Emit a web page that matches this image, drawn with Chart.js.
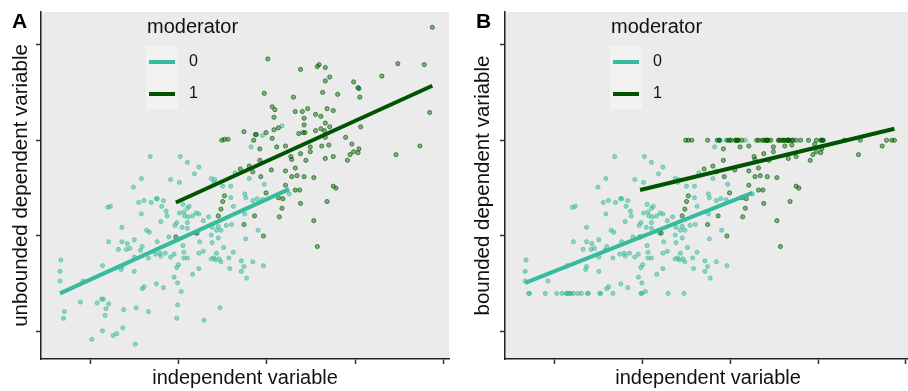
<!DOCTYPE html>
<html>
<head>
<meta charset="utf-8">
<script src="https://cdn.jsdelivr.net/npm/chart.js@4.4.1/dist/chart.umd.min.js"></script>
<style>
  body { margin: 0; background: #fff; }
  .wrap { display: flex; width: 908px; height: 391px; }
  .panel { width: 454px; height: 391px; overflow: hidden; }
  canvas { display: block; }
</style>
</head>
<body>
<div class="wrap">
  <div class="panel"><canvas id="panelA" width="454" height="391"></canvas></div>
  <div class="panel"><canvas id="panelB" width="462" height="391"></canvas></div>
</div>
<script>
const moderators = ['0', '1'];
const xTicks = [-2, -1, 0, 1, 2];
const yTicks = [-1, 0, 1, 2];

// moderator 0
const x0 = [
  -2.33, -2.34, -2.34, -2.08, -2.29, -2.30, -2.11, -1.98, -1.86, -1.87,
  -1.85, -1.92, -1.79, -1.82, -1.83, -1.86, -1.74, -1.70, -1.62, -1.63,
  -1.65, -1.64, -1.50, -1.68, -1.59, -1.55, -1.49, -1.48, -1.34, -1.41,
  -1.39, -1.25, -1.17, -1.34, -1.26, -1.21, -1.20, -1.15, -1.09, -1.43,
  -1.41, -1.50, -0.95, -0.94, -0.94, -0.90, -1.05, -1.00, -1.02, -1.05,
  -1.01, -0.97, -1.01, -1.02, -0.84, -0.77, -0.77, -0.72, -0.57, -0.49,
  -0.38, -0.63, -0.60, -0.58, -0.54, -0.52, -0.43, -0.42, -0.29, -0.26,
  -0.29, -0.23, -0.16, -0.04, -0.53, -0.71, -1.32, -1.42, -1.51, -1.09,
  -1.80, -1.77, -1.45, -1.39, -1.31, -1.25, -1.24, -1.17, -1.19, -1.14,
  -1.13, -1.42, -1.20, -1.64, -1.36, -1.33, -1.24, -1.11, -1.04, -1.02,
  -1.79, -1.64, -1.58, -1.50, -0.98, -0.90, -0.77, -0.82, -0.99, -0.63,
  -0.59, -0.60, -0.50, -0.41, -0.18, -0.36, -0.20, -0.03, -0.25, -0.24,
  -0.41, -0.38, -0.25, -0.16, -0.11, -0.05, 0.25, -0.88, -0.90, -0.95,
  -0.99, -0.93, -0.94, -0.89, -0.84, -0.80, -0.77, -0.90, -0.96, -0.90,
  -0.72, -0.66, -0.62, -0.55, -0.57, -0.46, -0.40, -0.52, -0.63, -0.76,
  -0.62, -0.55, -0.24, -0.10, -0.81, 0.17, -0.05
];
const yUnbounded0 = [
  -0.25, -0.37, -0.47, -0.47, -0.79, -0.86, -0.69, -1.08, -0.31, -0.66,
  -0.66, -0.70, -0.71, -0.76, -0.83, -0.99, -1.04, -1.02, -0.77, -0.96,
  -0.35, -0.32, -0.37, -0.14, -0.14, -0.13, -1.13, -0.75, -0.79, -0.55,
  -0.53, -0.50, -0.54, -0.23, -0.19, -0.18, -0.21, -0.18, -0.22, -0.15,
  -0.11, -0.22, -0.10, -0.17, -0.23, -0.23, -0.19, -0.30, -0.33, -0.43,
  -0.49, -0.58, -0.72, -0.86, -0.40, -0.34, -0.18, -0.16, -0.18, -0.12,
  -0.17, -0.24, -0.23, -0.25, -0.24, -0.27, -0.23, -0.34, -0.26, -0.32,
  -0.37, -0.44, -0.27, -0.31, -0.75, -0.88, 0.83, 0.60, 0.51, 0.59,
  0.30, 0.31, 0.35, 0.37, 0.35, 0.39, 0.39, 0.37, 0.31, 0.26,
  0.21, 0.23, 0.15, 0.09, 0.06, 0.04, -0.06, -0.01, 0.11, 0.14,
  -0.06, -0.06, -0.08, -0.04, 0.83, 0.77, 0.72, 0.65, 0.56, 0.60,
  0.59, 0.56, 0.52, 0.52, 0.93, 0.66, 0.60, 0.54, 0.44, 0.40,
  0.40, 0.31, 0.23, 0.37, 0.39, 0.38, 0.44, 0.31, 0.29, 0.33,
  0.24, 0.21, 0.25, 0.20, 0.21, 0.24, 0.23, 0.14, 0.09, 0.08,
  0.16, 0.20, 0.09, 0.10, 0.06, 0.11, 0.12, 0.06, 0.01, -0.06,
  -0.07, -0.02, -0.03, 0.06, 0.03, 1.15, 1.05
];
const yBounded0 = [
  -0.25, -0.37, -0.47, -0.47, -0.60, -0.60, -0.60, -0.60, -0.31, -0.60,
  -0.60, -0.60, -0.60, -0.60, -0.60, -0.60, -0.60, -0.60, -0.60, -0.60,
  -0.35, -0.32, -0.37, -0.14, -0.14, -0.13, -0.60, -0.60, -0.60, -0.55,
  -0.53, -0.50, -0.54, -0.23, -0.19, -0.18, -0.21, -0.18, -0.22, -0.15,
  -0.11, -0.22, -0.10, -0.17, -0.23, -0.23, -0.19, -0.30, -0.33, -0.43,
  -0.49, -0.58, -0.60, -0.60, -0.40, -0.34, -0.18, -0.16, -0.18, -0.12,
  -0.17, -0.24, -0.23, -0.25, -0.24, -0.27, -0.23, -0.34, -0.26, -0.32,
  -0.37, -0.44, -0.27, -0.31, -0.60, -0.60, 0.83, 0.60, 0.51, 0.59,
  0.30, 0.31, 0.35, 0.37, 0.35, 0.39, 0.39, 0.37, 0.31, 0.26,
  0.21, 0.23, 0.15, 0.09, 0.06, 0.04, -0.06, -0.01, 0.11, 0.14,
  -0.06, -0.06, -0.08, -0.04, 0.83, 0.77, 0.72, 0.65, 0.56, 0.60,
  0.59, 0.56, 0.52, 0.52, 0.93, 0.66, 0.60, 0.54, 0.44, 0.40,
  0.40, 0.31, 0.23, 0.37, 0.39, 0.38, 0.44, 0.31, 0.29, 0.33,
  0.24, 0.21, 0.25, 0.20, 0.21, 0.24, 0.23, 0.14, 0.09, 0.08,
  0.16, 0.20, 0.09, 0.10, 0.06, 0.11, 0.12, 0.06, 0.01, -0.06,
  -0.07, -0.02, -0.03, 0.06, 0.03, 1.00, 1.00
];

// moderator 1
const x1 = [
  -0.08, 0.11, 0.21, 0.27, 0.28, 0.38, 0.44, -0.08, -0.16, -0.30,
  -0.20, 0.05, 0.21, 0.32, 0.28, 0.34, 0.42, -0.07, -0.01, 0.21,
  0.32, 0.37, 0.13, 0.18, 0.38, 0.17, 0.14, -0.14, -0.26, -0.04,
  -0.48, -0.50, -0.52, -0.55, -0.79, 0.53, 0.53, 0.57, 0.68, 0.75,
  0.78, 0.01, 0.38, 0.57, 0.59, 0.66, 0.66, -0.03, 0.30, 0.63,
  0.06, 0.09, 0.32, 0.40, 0.46, 0.55, 0.61, 0.68, 0.08, 0.42,
  0.42, 0.66, 0.61, 0.55, 0.13, 0.08, -0.01, -0.12, -0.13, -0.26,
  -0.15, 0.06, 0.36, 0.41, 0.43, -0.51, -0.48, -0.44, 0.49, 0.49,
  0.62, 1.87, 1.48, 1.78, 1.30, 0.98, 1.03, 1.04, 1.05, 0.80,
  0.71, 1.84, 0.75, 0.71, 0.65, 1.06, 0.89, 0.66, 0.70, 0.96,
  1.04, 0.98, 1.03, 0.94, 0.75, 0.66, 0.91, 1.46, 1.73, -1.03
];
const yUnbounded1 = [
  0.91, 0.93, 0.94, 0.83, 0.80, 0.86, 0.79, 0.79, 0.67, 0.70,
  0.73, 0.69, 0.68, 0.71, 0.62, 0.63, 0.62, 0.62, 0.45, 0.53,
  0.48, 0.48, 0.40, 0.39, 0.34, 0.29, 0.20, 0.21, 0.12, 0.00,
  0.42, 0.36, 0.28, 0.21, 0.03, 0.61, 0.16, -0.11, 0.36, 0.52,
  0.50, 1.85, 1.74, 1.77, 1.79, 1.76, 1.62, 1.49, 1.45, 1.50,
  1.35, 1.32, 1.30, 1.30, 1.33, 1.27, 1.25, 1.33, 1.24, 1.23,
  1.16, 1.18, 1.12, 1.10, 1.13, 1.11, 1.08, 1.06, 1.06, 1.09,
  1.00, 1.02, 1.07, 1.08, 1.08, 1.00, 1.01, 1.01, 0.93, 0.88,
  0.94, 2.18, 1.80, 1.79, 1.67, 1.61, 1.55, 1.54, 1.45, 1.48,
  1.66, 1.29, 1.31, 1.14, 1.10, 1.14, 1.03, 1.03, 0.95, 0.96,
  0.91, 0.88, 0.87, 0.85, 0.83, 0.81, 0.79, 0.85, 0.94, -0.01
];
const yBounded1 = [
  0.91, 0.93, 0.94, 0.83, 0.80, 0.86, 0.79, 0.79, 0.67, 0.70,
  0.73, 0.69, 0.68, 0.71, 0.62, 0.63, 0.62, 0.62, 0.45, 0.53,
  0.48, 0.48, 0.40, 0.39, 0.34, 0.29, 0.20, 0.21, 0.12, 0.00,
  0.42, 0.36, 0.28, 0.21, 0.03, 0.61, 0.16, -0.11, 0.36, 0.52,
  0.50, 1.00, 1.00, 1.00, 1.00, 1.00, 1.00, 1.00, 1.00, 1.00,
  1.00, 1.00, 1.00, 1.00, 1.00, 1.00, 1.00, 1.00, 1.00, 1.00,
  1.00, 1.00, 1.00, 1.00, 1.00, 1.00, 1.00, 1.00, 1.00, 1.00,
  1.00, 1.00, 1.00, 1.00, 1.00, 1.00, 1.00, 1.00, 0.93, 0.88,
  0.94, 1.00, 1.00, 1.00, 1.00, 1.00, 1.00, 1.00, 1.00, 1.00,
  1.00, 1.00, 1.00, 1.00, 1.00, 1.00, 1.00, 1.00, 0.95, 0.96,
  0.91, 0.88, 0.87, 0.85, 0.83, 0.81, 0.79, 0.85, 0.94, -0.01
];

// fitted lines (end points)
const fitX0 = [-2.34, 0.25];
const fitX1 = [-1.03, 1.87];
const fitUnbounded0 = [-0.60, 0.49];
const fitUnbounded1 = [0.35, 1.57];
const fitBounded0 = [-0.49, 0.45];
const fitBounded1 = [0.48, 1.12];

const pointFill = ['rgba(52, 186, 150, 0.5)', 'rgba(0, 100, 0, 0.45)'];
const pointEdge = ['rgba(52, 186, 150, 0.6)', 'rgba(0, 90, 0, 0.7)'];
const lineColors = ['#36BB9E', '#005300'];
const FONT = '"Liberation Sans", Arial, sans-serif';

Chart.defaults.font.family = FONT;

function toPoints(xs, ys) {
    return xs.map((x, i) => ({ x: x, y: ys[i] }));
}

const panelDecor = {
    id: 'panelDecor',
    beforeDraw(chart) {
        const { ctx, chartArea: a } = chart;
        ctx.save();
        ctx.fillStyle = '#EBEBEB';
        ctx.fillRect(a.left, a.top, a.right - a.left, a.bottom - a.top);
        ctx.restore();
    },
    afterDraw(chart, args, opts) {
        const { ctx, chartArea: a } = chart;
        ctx.save();
        ctx.textBaseline = 'middle';
        ctx.textAlign = 'left';
        ctx.fillStyle = '#000';
        ctx.font = 'bold 21px ' + FONT;
        ctx.fillText(opts.letter, a.left - 29, 22);

        const lx = a.left + 105;
        ctx.fillStyle = '#111';
        ctx.font = '20px ' + FONT;
        ctx.fillText('moderator', lx + 1, 27);
        ctx.fillStyle = '#F2F2F2';
        ctx.fillRect(lx, 46, 32, 63);
        ctx.font = '16px ' + FONT;
        moderators.forEach((m, i) => {
            const y = 62 + i * 32;
            ctx.strokeStyle = lineColors[i];
            ctx.lineWidth = 4;
            ctx.beginPath();
            ctx.moveTo(lx + 3, y);
            ctx.lineTo(lx + 29, y);
            ctx.stroke();
            ctx.fillStyle = '#111';
            ctx.fillText(m, lx + 43, y);
        });
        ctx.restore();
    }
};

function axisGrid() {
    return { drawOnChartArea: false, drawTicks: true, tickLength: 5, tickWidth: 1.5, tickColor: '#333' };
}

function makePanel(canvasId, cfg) {
    const ctx = document.getElementById(canvasId).getContext('2d');
    new Chart(ctx, {
        type: 'scatter',
        data: {
            datasets: [
                {
                    label: 'fit 0', data: toPoints(fitX0, cfg.fit0), showLine: true,
                    borderColor: lineColors[0], borderWidth: 4, pointRadius: 0, order: 0
                },
                {
                    label: 'fit 1', data: toPoints(fitX1, cfg.fit1), showLine: true,
                    borderColor: lineColors[1], borderWidth: 4, pointRadius: 0, order: 0
                },
                {
                    label: moderators[0], data: toPoints(x0, cfg.y0),
                    backgroundColor: pointFill[0], borderColor: pointEdge[0],
                    pointRadius: 2.1, borderWidth: 0.9, order: 2
                },
                {
                    label: moderators[1], data: toPoints(x1, cfg.y1),
                    backgroundColor: pointFill[1], borderColor: pointEdge[1],
                    pointRadius: 2.1, borderWidth: 0.9, order: 1
                }
            ]
        },
        options: {
            responsive: false,
            animation: false,
            events: [],
            layout: { padding: { top: 12, right: cfg.padRight, bottom: 0, left: 0 } },
            plugins: {
                legend: { display: false },
                tooltip: { enabled: false },
                panelDecor: { letter: cfg.letter }
            },
            scales: {
                x: {
                    type: 'linear', min: cfg.xMin, max: cfg.xMax,
                    afterBuildTicks: s => { s.ticks = xTicks.map(v => ({ value: v })); },
                    afterFit: s => { s.height = 32; },
                    ticks: { display: false },
                    grid: axisGrid(),
                    border: { display: true, color: '#222', width: 1.5 },
                    title: {
                        display: true, text: 'independent variable', color: '#111',
                        font: { size: 20, lineHeight: 1.2 }, padding: { top: 0, bottom: 1 }
                    }
                },
                y: {
                    type: 'linear', min: -1.285, max: 2.34,
                    afterBuildTicks: s => { s.ticks = yTicks.map(v => ({ value: v })); },
                    afterFit: s => { s.width = cfg.yWidth; },
                    ticks: { display: false },
                    grid: axisGrid(),
                    border: { display: true, color: '#222', width: 1.5 },
                    title: {
                        display: true, text: cfg.yTitle, color: '#111',
                        font: { size: 20.5, lineHeight: 1.2 }, padding: { top: cfg.yTitlePad, bottom: 0 }
                    }
                }
            }
        },
        plugins: [panelDecor]
    });
}

makePanel('panelA', {
    letter: 'A', yTitle: 'unbounded dependent variable', yWidth: 41, yTitlePad: 9.5,
    padRight: 1, xMin: -2.555, xMax: 2.06,
    y0: yUnbounded0, y1: yUnbounded1, fit0: fitUnbounded0, fit1: fitUnbounded1
});
makePanel('panelB', {
    letter: 'B', yTitle: 'bounded dependent variable', yWidth: 51, yTitlePad: 17,
    padRight: 0, xMin: -2.57, xMax: 2.06,
    y0: yBounded0, y1: yBounded1, fit0: fitBounded0, fit1: fitBounded1
});
</script>
</body>
</html>
